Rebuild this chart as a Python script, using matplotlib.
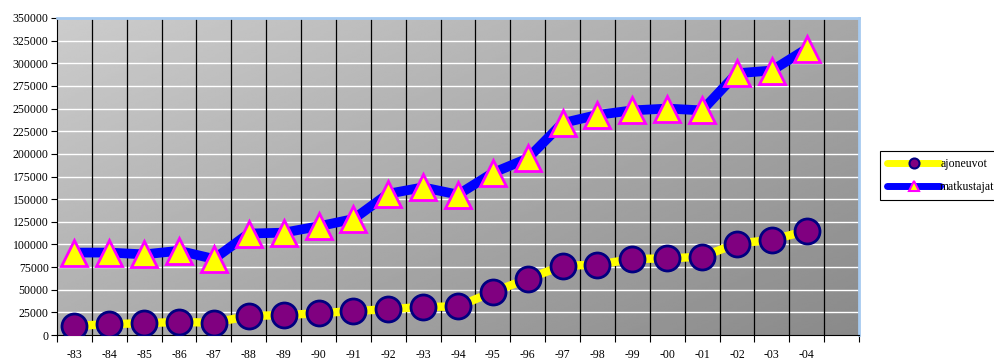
import matplotlib
matplotlib.use("Agg")
import matplotlib.pyplot as plt
import numpy as np
from matplotlib.ticker import FixedLocator, NullFormatter, FixedFormatter

years = ["-83", "-84", "-85", "-86", "-87", "-88", "-89", "-90", "-91", "-92", "-93",
         "-94", "-95", "-96", "-97", "-98", "-99", "-00", "-01", "-02", "-03", "-04"]
ajoneuvot = [10000, 12000, 13000, 14500, 13500, 21000, 22000, 24000, 26500, 28500, 31000,
             31500, 47500, 62000, 76500, 77500, 84000, 84500, 86500, 101000, 105000, 115000]
matkustajat = [91000, 91000, 89000, 93000, 84000, 112000, 113000, 120000, 128000, 156000, 163000,
               155000, 179000, 195000, 234000, 243000, 248000, 250000, 248000, 289000, 292000, 316000]
yticks = list(range(0, 350001, 25000))

plt.rcParams["font.family"] = ["Liberation Serif", "DejaVu Serif"]
plt.rcParams["font.size"] = 8

fig = plt.figure(figsize=(9.94, 3.59), dpi=100)
ax = fig.add_axes([57 / 994, 1 - 335 / 359, 802 / 994, 317 / 359])

n = len(years)
slots = n + 1
x = np.arange(n)
ax.set_xlim(-0.5, slots - 0.5)
ax.set_ylim(0, 350000)

# diagonal grey gradient for the plot area
gx, gy = np.meshgrid(np.linspace(0, 1, 200), np.linspace(0, 1, 200))
g = (gx * 0.55 + (1 - gy) * 0.45)
light, dark = 0.80, 0.54
img = light + (dark - light) * g
ax.imshow(img, cmap="gray", vmin=0, vmax=1, extent=(-0.5, slots - 0.5, 350000, 0),
          aspect="auto", zorder=0, origin="upper", interpolation="bilinear")
ax.set_ylim(0, 350000)

# grid lines
for yv in yticks[1:]:
    ax.axhline(yv, color="white", lw=1.0, zorder=1)
for b in np.arange(0.5, slots - 0.5, 1.0):
    ax.axvline(b, color="black", lw=0.9, zorder=1)

ax.plot(x, ajoneuvot, color="#ffff00", lw=6, zorder=3, solid_capstyle="round",
        marker="o", markersize=18, markerfacecolor="#800080", markeredgecolor="#000080",
        markeredgewidth=2, label="ajoneuvot")
ax.plot(x, matkustajat, color="#0000ff", lw=7, zorder=3, solid_capstyle="round",
        marker="^", markersize=19, markerfacecolor="#ffff00", markeredgecolor="#ff00ff",
        markeredgewidth=2, label="matkustajat")

# axes styling
ax.spines["left"].set_color("black")
ax.spines["bottom"].set_color("black")
ax.spines["top"].set_color("#a6caf0")
ax.spines["right"].set_color("#a6caf0")
ax.spines["top"].set_linewidth(2)
ax.spines["right"].set_linewidth(2)

ax.set_yticks(yticks)
ax.set_yticklabels([str(v) for v in yticks])
ax.tick_params(axis="y", length=4, width=0.8, pad=2, labelsize=8.5)

ax.xaxis.set_major_locator(FixedLocator(np.arange(-0.5, slots, 1.0)))
ax.xaxis.set_major_formatter(NullFormatter())
ax.xaxis.set_minor_locator(FixedLocator(x))
ax.xaxis.set_minor_formatter(FixedFormatter(years))
ax.tick_params(axis="x", which="major", length=5, width=0.8)
ax.tick_params(axis="x", which="minor", length=0, pad=10, labelsize=8.5)

leg = fig.legend(loc="upper left", bbox_to_anchor=(880 / 994, 1 - 151 / 359),
                 frameon=True, fancybox=False, edgecolor="black", framealpha=1,
                 handlelength=4.5, handletextpad=0.0, borderpad=0.6, labelspacing=0.9,
                 fontsize=8.5, markerscale=0.4, borderaxespad=0)
leg.get_frame().set_linewidth(0.8)
for h in leg.legend_handles:
    h.set_linewidth(5)
    h.set_markeredgewidth(1.5)

fig.savefig("out.png", dpi=100)
